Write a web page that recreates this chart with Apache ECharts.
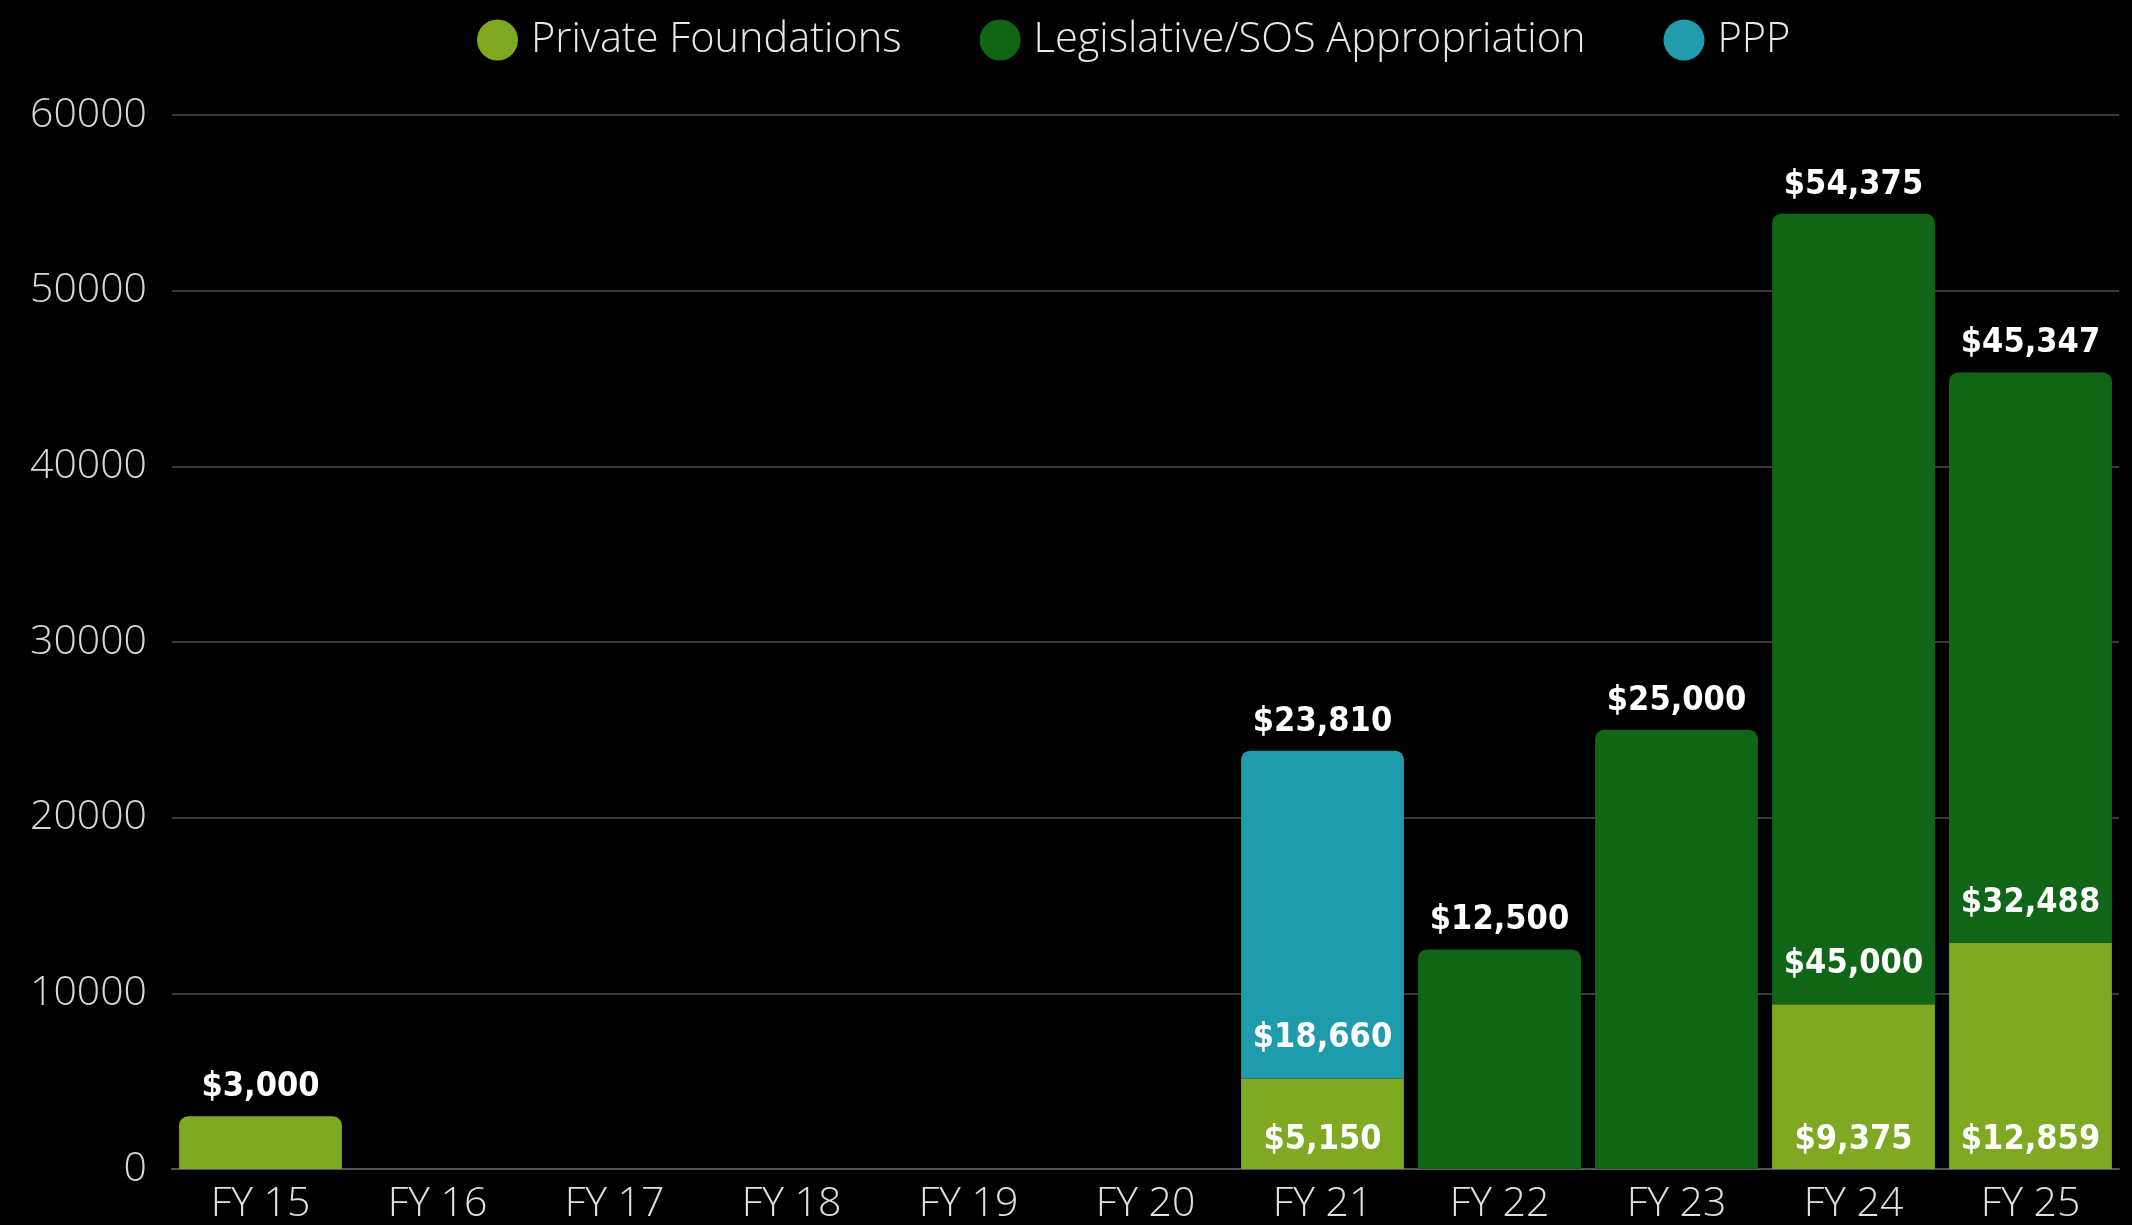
<!DOCTYPE html>
<html>
<head>
<meta charset="utf-8">
<script src="https://cdn.jsdelivr.net/npm/echarts@6/dist/echarts.min.js"></script>
<style>
  html, body { margin: 0; padding: 0; background: #000; }
  #chart { width: 2132px; height: 1225px; }
</style>
</head>
<body>
<div id="chart"></div>
<script>
const years = ['FY 15', 'FY 16', 'FY 17', 'FY 18', 'FY 19', 'FY 20', 'FY 21', 'FY 22', 'FY 23', 'FY 24', 'FY 25'];
const privateFoundations = [3000, 0, 0, 0, 0, 0, 5150, 0, 0, 9375, 12859];
const legislative = [0, 0, 0, 0, 0, 0, 0, 12500, 25000, 45000, 32488];
const ppp = [0, 0, 0, 0, 0, 0, 18660, 0, 0, 0, 0];

(function () {
  const chart = echarts.init(document.getElementById('chart'));
  const stacks = [privateFoundations, legislative, ppp];
  const totals = years.map((_, i) => stacks.reduce((s, arr) => s + arr[i], 0));
  const money = v => '$' + v.toLocaleString('en-US');
  const labelFont = { fontFamily: 'DejaVu Sans Condensed', fontWeight: 'bold', fontSize: 34, color: '#fff' };

  // top segment of each column gets the rounded corners
  const topIdx = years.map((_, i) => {
    let t = -1;
    stacks.forEach((arr, k) => { if (arr[i] > 0) t = k; });
    return t;
  });
  const segCount = years.map((_, i) => stacks.filter(arr => arr[i] > 0).length);

  const build = (arr, k, dist) => arr.map((v, i) => ({
    value: v,
    itemStyle: { borderRadius: topIdx[i] === k ? [9, 9, 0, 0] : 0 },
    label: { show: v > 0 && segCount[i] > 1, position: 'insideBottom', distance: dist },
  }));

  const bar = (name, arr, k, color, dist) => ({
    name, type: 'bar', stack: 'a', barWidth: '92%',
    data: build(arr, k, dist),
    itemStyle: { color },
    label: Object.assign({ formatter: p => money(p.value) }, labelFont),
  });

  chart.setOption({
    backgroundColor: '#000',
    animation: false,
    legend: {
      data: ['Private Foundations', 'Legislative/SOS Appropriation', 'PPP'],
      left: 472, top: 14,
      icon: 'circle', itemWidth: 41, itemHeight: 41, itemGap: 78,
      textStyle: { color: '#e8e8e8', fontFamily: 'Open Sans', fontWeight: 300, fontSize: 41.5, padding: [0, 0, 0, 8] },
    },
    grid: { left: 172, right: 13, top: 115, bottom: 55 },
    xAxis: {
      type: 'category', data: years,
      axisTick: { show: false },
      axisLine: { lineStyle: { color: '#555', width: 2 } },
      axisLabel: { color: '#e0e0e0', fontFamily: 'Open Sans', fontWeight: 300, fontSize: 41, margin: 15 },
    },
    yAxis: {
      type: 'value', min: 0, max: 60000, interval: 10000,
      axisLabel: { color: '#d8d8d8', fontFamily: 'Open Sans', fontWeight: 300, fontSize: 41, margin: 25, formatter: v => String(v) },
      splitLine: { lineStyle: { color: '#3a3a3a', width: 2 } },
    },
    series: [
      bar('Private Foundations', privateFoundations, 0, '#7fa922', 12),
      bar('Legislative/SOS Appropriation', legislative, 1, '#106616', 23),
      bar('PPP', ppp, 2, '#1f9bab', 23),
      {
        name: 'Total', type: 'bar', stack: 'a', barWidth: '92%',
        data: years.map(() => 0),
        label: Object.assign({
          show: true, position: 'top', distance: 12,
          formatter: p => totals[p.dataIndex] > 0 ? money(totals[p.dataIndex]) : '',
        }, labelFont),
      },
    ],
  });
  window.addEventListener('resize', () => chart.resize());
})();
</script>
</body>
</html>
